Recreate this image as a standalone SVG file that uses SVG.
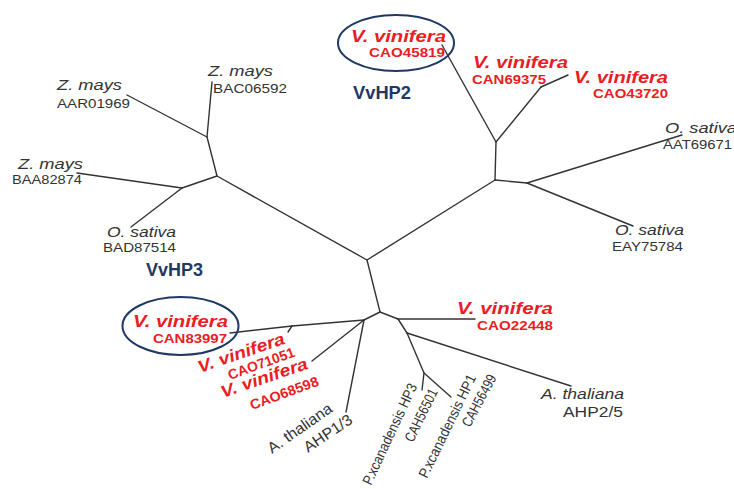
<svg xmlns="http://www.w3.org/2000/svg" width="734" height="489" viewBox="0 0 734 489">
<style>
text{font-family:"Liberation Sans",Arial,sans-serif}
.sp{font-style:italic;fill:#333;font-size:14.5px}
.sr{fill:#333;font-size:15.5px}
.id{fill:#333;font-size:13.5px}
.rot{fill:#333;font-size:14.5px}
.vv{fill:#EC1C24;font-weight:bold;font-style:italic;font-size:16px}
.vvr{fill:#EC1C24;font-weight:bold;font-style:italic;font-size:17px}
.vid{fill:#EC1C24;font-weight:bold;font-size:13px}
.vidr{fill:#EC1C24;font-weight:bold;font-size:14px}
.hp{fill:#1F3864;font-weight:bold;font-size:18px}
.ring{fill:none;stroke:#1F3864;stroke-width:2}
.edge{stroke:#333;stroke-width:1.4;fill:none;stroke-linecap:round}
</style>
<rect width="734" height="489" fill="#fff"/>
<g id="connectors" class="edge">
<line x1="367" y1="260" x2="217" y2="176"/>
<line x1="367" y1="260" x2="495" y2="180"/>
<line x1="367" y1="260" x2="380" y2="312"/>
<line x1="217" y1="176" x2="207" y2="137"/>
<line x1="207" y1="137" x2="212" y2="82"/>
<line x1="207" y1="137" x2="127" y2="95"/>
<line x1="217" y1="176" x2="182" y2="188"/>
<line x1="182" y1="188" x2="77" y2="173"/>
<line x1="182" y1="188" x2="131" y2="227"/>
<line x1="495" y1="180" x2="496" y2="142"/>
<line x1="496" y1="142" x2="442" y2="45"/>
<line x1="496" y1="142" x2="541" y2="87"/>
<line x1="541" y1="87" x2="568" y2="75"/>
<line x1="495" y1="180" x2="527" y2="183"/>
<line x1="527" y1="183" x2="682" y2="135"/>
<line x1="527" y1="183" x2="633" y2="226"/>
<line x1="380" y1="312" x2="364" y2="320"/>
<line x1="380" y1="312" x2="398" y2="319"/>
<line x1="364" y1="320" x2="292" y2="326"/>
<line x1="292" y1="326" x2="230" y2="333"/>
<line x1="292" y1="326" x2="288" y2="332"/>
<line x1="364" y1="320" x2="312" y2="361"/>
<line x1="364" y1="320" x2="346" y2="412"/>
<line x1="398" y1="319" x2="475" y2="319"/>
<line x1="398" y1="319" x2="407" y2="333"/>
<line x1="407" y1="333" x2="571" y2="386"/>
<line x1="407" y1="333" x2="424" y2="373"/>
<line x1="424" y1="373" x2="422" y2="390"/>
<line x1="424" y1="373" x2="451" y2="397"/>
</g>
<g id="leaf-AAR01969">
<text class="sp" x="57" y="90" textLength="65" lengthAdjust="spacingAndGlyphs">Z. mays</text>
<text class="id" x="57" y="108" textLength="73" lengthAdjust="spacingAndGlyphs">AAR01969</text>
</g>
<g id="leaf-BAC06592">
<text class="sp" x="208" y="76" textLength="65" lengthAdjust="spacingAndGlyphs">Z. mays</text>
<text class="id" x="213" y="93" textLength="74" lengthAdjust="spacingAndGlyphs">BAC06592</text>
</g>
<g id="leaf-BAA82874">
<text class="sp" x="18" y="169" textLength="65" lengthAdjust="spacingAndGlyphs">Z. mays</text>
<text class="id" x="12" y="184" textLength="70" lengthAdjust="spacingAndGlyphs">BAA82874</text>
</g>
<g id="leaf-BAD87514">
<text class="sp" x="107" y="237" textLength="69" lengthAdjust="spacingAndGlyphs">O. sativa</text>
<text class="id" x="103" y="252" textLength="73" lengthAdjust="spacingAndGlyphs">BAD87514</text>
</g>
<g id="label-VvHP3">
<text class="hp" x="146" y="276" textLength="57" lengthAdjust="spacingAndGlyphs">VvHP3</text>
</g>
<g id="leaf-CAO45819">
<ellipse class="ring" cx="396" cy="43" rx="58" ry="28"/>
<text class="vv" x="351" y="42" textLength="95" lengthAdjust="spacingAndGlyphs">V. vinifera</text>
<text class="vid" x="369" y="57" textLength="76" lengthAdjust="spacingAndGlyphs">CAO45819</text>
</g>
<g id="label-VvHP2">
<text class="hp" x="353" y="99" textLength="58" lengthAdjust="spacingAndGlyphs">VvHP2</text>
</g>
<g id="leaf-CAN69375">
<text class="vv" x="473" y="68" textLength="95" lengthAdjust="spacingAndGlyphs">V. vinifera</text>
<text class="vid" x="472" y="84" textLength="74" lengthAdjust="spacingAndGlyphs">CAN69375</text>
</g>
<g id="leaf-CAO43720">
<text class="vv" x="574" y="83" textLength="94" lengthAdjust="spacingAndGlyphs">V. vinifera</text>
<text class="vid" x="593" y="98" textLength="75" lengthAdjust="spacingAndGlyphs">CAO43720</text>
</g>
<g id="leaf-AAT69671">
<text class="sp" x="665" y="133" textLength="72" lengthAdjust="spacingAndGlyphs">O. sativa</text>
<text class="id" x="663" y="149" textLength="69" lengthAdjust="spacingAndGlyphs">AAT69671</text>
</g>
<g id="leaf-EAY75784">
<text class="sp" x="615" y="235" textLength="69" lengthAdjust="spacingAndGlyphs">O. sativa</text>
<text class="id" x="612" y="251" textLength="71" lengthAdjust="spacingAndGlyphs">EAY75784</text>
</g>
<g id="leaf-CAN83997">
<ellipse class="ring" cx="180.5" cy="326" rx="58" ry="29"/>
<text class="vv" x="133" y="327" textLength="95" lengthAdjust="spacingAndGlyphs">V. vinifera</text>
<text class="vid" x="153" y="343" textLength="74" lengthAdjust="spacingAndGlyphs">CAN83997</text>
</g>
<g id="leaf-CAO71051">
<text class="vvr" transform="translate(200,373) rotate(-19)" textLength="91" lengthAdjust="spacingAndGlyphs">V. vinifera</text>
<text class="vidr" transform="translate(230,380) rotate(-20)" textLength="70" lengthAdjust="spacingAndGlyphs">CAO71051</text>
</g>
<g id="leaf-CAO68598">
<text class="vvr" transform="translate(223,398) rotate(-19)" textLength="91" lengthAdjust="spacingAndGlyphs">V. vinifera</text>
<text class="vidr" transform="translate(252,410) rotate(-20)" textLength="72" lengthAdjust="spacingAndGlyphs">CAO68598</text>
</g>
<g id="leaf-AHP13">
<text class="sr" transform="translate(272,454) rotate(-35)" textLength="75" lengthAdjust="spacingAndGlyphs">A. thaliana</text>
<text class="sr" transform="translate(308,453) rotate(-34)" textLength="55" lengthAdjust="spacingAndGlyphs">AHP1/3</text>
</g>
<g id="leaf-CAO22448">
<text class="vv" x="457" y="314" textLength="96" lengthAdjust="spacingAndGlyphs">V. vinifera</text>
<text class="vid" x="477" y="330" textLength="76" lengthAdjust="spacingAndGlyphs">CAO22448</text>
</g>
<g id="leaf-HP3">
<text class="rot" transform="translate(371,486) rotate(-65)" textLength="110" lengthAdjust="spacingAndGlyphs">P.xcanadensis HP3</text>
<text class="rot" transform="translate(413,443) rotate(-64)" textLength="57" lengthAdjust="spacingAndGlyphs">CAH56501</text>
</g>
<g id="leaf-HP1">
<text class="rot" transform="translate(427,479) rotate(-64)" textLength="113" lengthAdjust="spacingAndGlyphs">P.xcanadensis HP1</text>
<text class="rot" transform="translate(470,428) rotate(-62)" textLength="57" lengthAdjust="spacingAndGlyphs">CAH56499</text>
</g>
<g id="leaf-AHP25">
<text class="sp" x="541" y="399" textLength="83" lengthAdjust="spacingAndGlyphs">A. thaliana</text>
<text class="sr" x="563" y="417" textLength="60" lengthAdjust="spacingAndGlyphs">AHP2/5</text>
</g>
</svg>
